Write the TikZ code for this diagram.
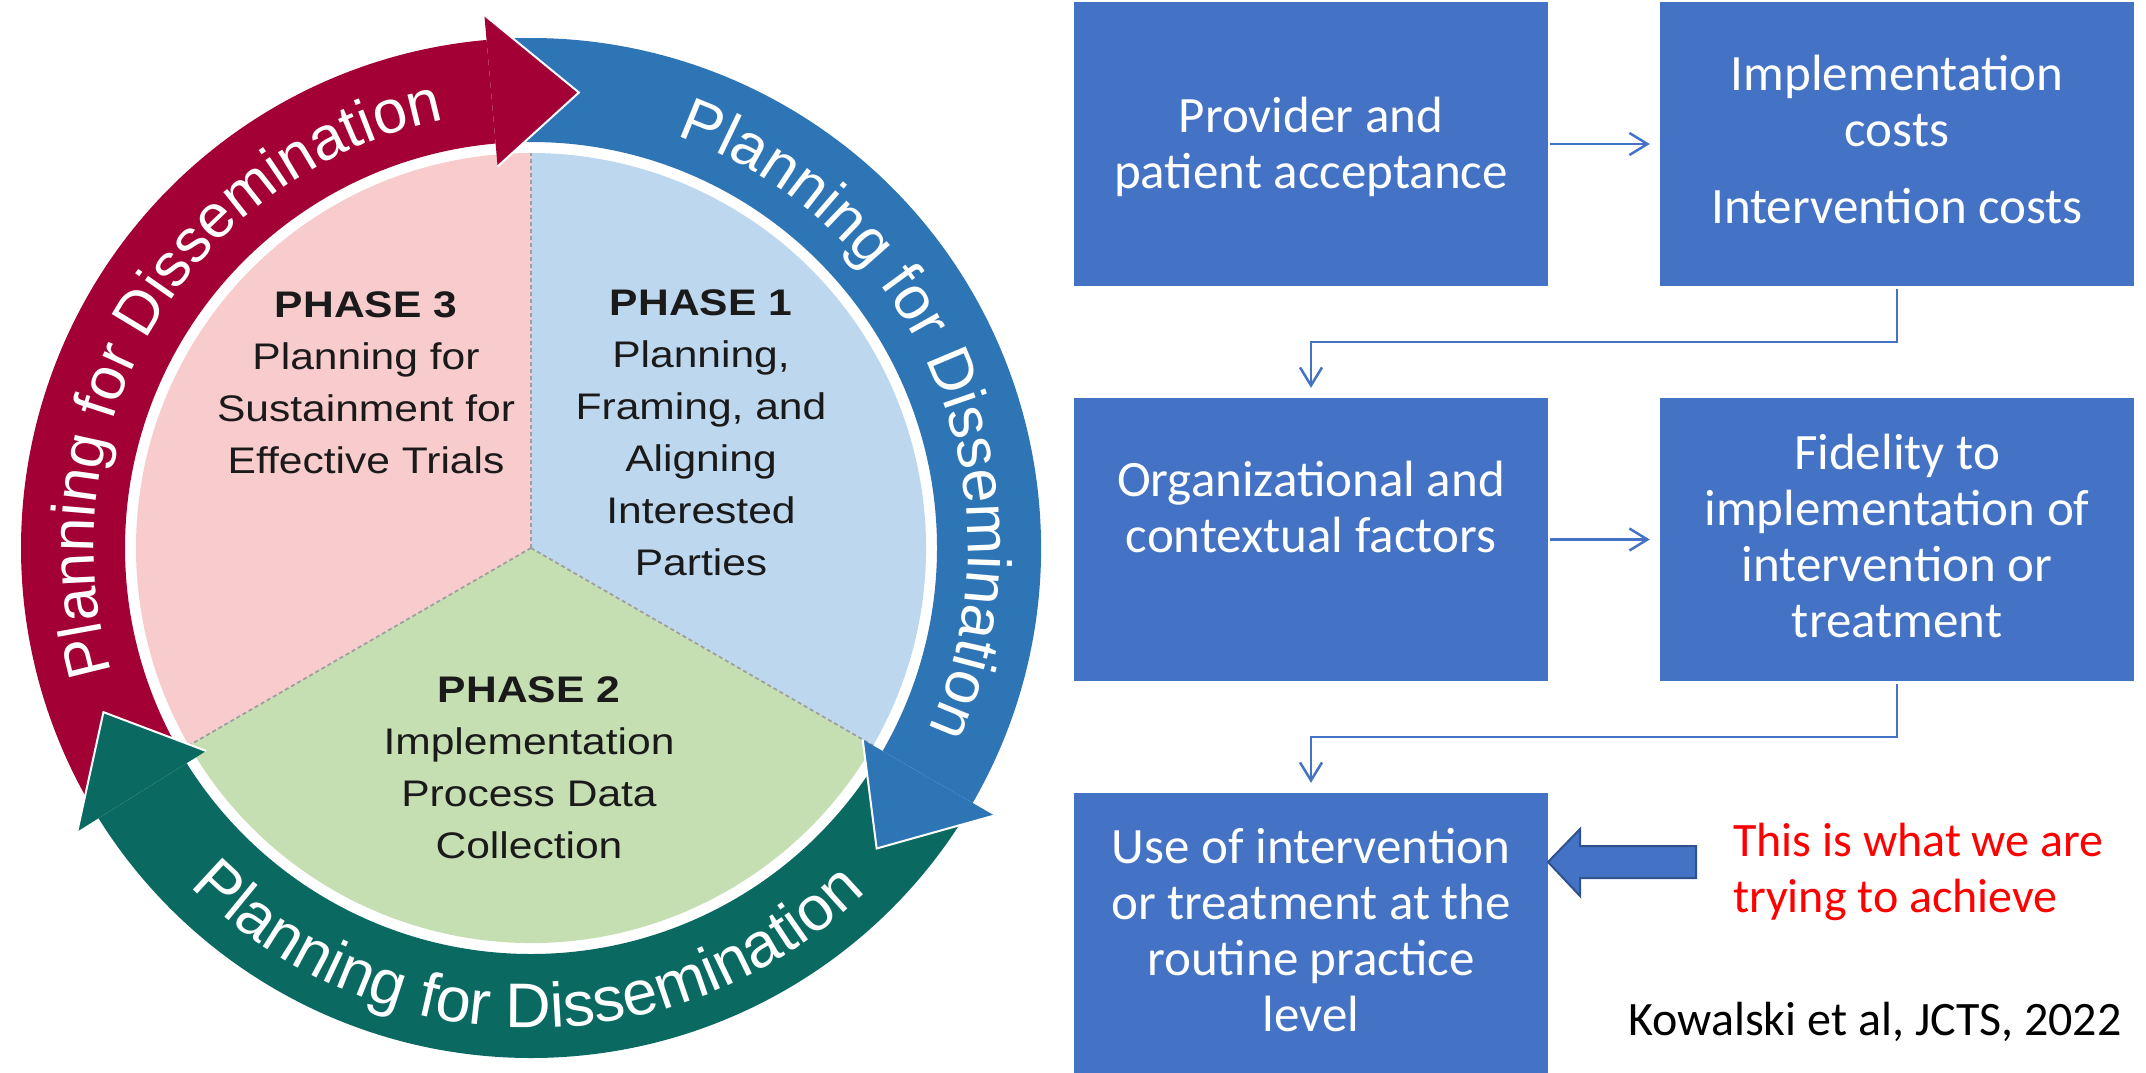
\documentclass[tikz,border=0pt]{standalone}
\usepackage{fontspec}
\setmainfont{Carlito}
\newfontfamily\piefont[FakeStretch=1.15]{Liberation Sans}
\newfontfamily\ringfont{Liberation Sans}
\usetikzlibrary{arrows.meta,decorations.text,calc}
\definecolor{boxblue}{HTML}{4472C4}
\definecolor{boxedge}{HTML}{2F528F}
\definecolor{piepink}{HTML}{F8CBCC}
\definecolor{pieblue}{HTML}{BDD7EE}
\definecolor{piegreen}{HTML}{C5DFB3}
\definecolor{ringred}{HTML}{A30035}
\definecolor{ringblue}{HTML}{2E75B6}
\definecolor{ringteal}{HTML}{0A6A62}
\definecolor{pietxt}{HTML}{1A1A1A}
\begin{document}
\begin{tikzpicture}[x=1pt,y=-1pt,
  box/.style={rectangle, fill=boxblue, inner sep=0pt, minimum width=474pt},
  boxtext/.style={inner sep=0pt, align=center, text=white, font=\fontsize{51}{56}\selectfont},
  pietext/.style={inner sep=0pt, align=center, text=pietxt, font=\piefont\fontsize{37}{52}\selectfont},
  conn/.style={draw=boxblue, line width=2.5pt, -{Straight Barb[length=18pt,width=22pt,line width=2.5pt]}},
  divider/.style={draw=gray!75, line width=1.8pt, dash pattern=on 4pt off 3pt},
  headedge/.style={draw=white, line width=2pt, line join=miter},
  ringtext/.style 2 args={decorate, decoration={text along path, text align=center, text={|\ringfont\fontsize{#1}{#1}\selectfont\color{white}|#2}}}
]
\useasboundingbox (0,0) rectangle (2146,1073);

% ---------------- left: phase wheel ----------------
\begin{scope}[shift={(531,548)}, y=1pt]
  \fill[piepink]  (0,0) -- (90:395)  arc[start angle=90,  end angle=210, radius=395] -- cycle;
  \fill[pieblue]  (0,0) -- (-30:395) arc[start angle=-30, end angle=90,  radius=395] -- cycle;
  \fill[piegreen] (0,0) -- (210:395) arc[start angle=210, end angle=330, radius=395] -- cycle;
  \draw[divider] (0,0) -- (90:395);
  \draw[divider] (0,0) -- (210:395);
  \draw[divider] (0,0) -- (330:395);
  % band bodies
  \fill[ringred]  (209:406) arc[start angle=209, end angle=95, radius=406] -- (95:510) arc[start angle=95, end angle=209, radius=510] -- cycle;
  \fill[ringblue] (92:406) arc[start angle=92, end angle=-30, radius=406] -- (-30:510) arc[start angle=-30, end angle=92, radius=510] -- cycle;
  \fill[ringteal] (-33:406) arc[start angle=-33, end angle=-148, radius=406] -- (-148:510) arc[start angle=-148, end angle=-33, radius=510] -- cycle;
  % heads
  \fill[ringred]  (95:383) -- (84:458) -- (95:535) -- cycle;
  \draw[headedge] (95:383) -- (84:458) -- (95:535);
  \fill[ringblue] (-30:383) -- (-41:458) -- (-30:535) -- cycle;
  \draw[headedge] (-30:383) -- (-41:458) -- (-30:535);
  \fill[ringteal] (-148:383) -- (-159:458) -- (-148:535) -- cycle;
  \draw[headedge] (-148:383) -- (-159:458) -- (-148:535);
  % ring texts
  \path[ringtext={61}{Planning for Dissemination}] (209:437) arc[start angle=209, end angle=89, radius=437];
  \path[ringtext={61}{Planning for Dissemination}] (83:437) arc[start angle=83, end angle=-37, radius=437];
  \path[ringtext={63}{Planning for Dissemination}] (209.5:480) arc[start angle=209.5, end angle=329.5, radius=480];
\end{scope}

\node[pietext, anchor=base] (p3) at (366,473) {\textbf{PHASE 3}\\Planning for\\Sustainment for\\Effective Trials};
\node[pietext, anchor=base] (p1) at (701,575) {\textbf{PHASE 1}\\Planning,\\Framing, and\\Aligning\\Interested\\Parties};
\node[pietext, anchor=base] (p2) at (529,858) {\textbf{PHASE 2}\\Implementation\\Process Data\\Collection};

% ---------------- right: flow ----------------
\node[box, minimum height=284pt] (b1) at (1311,144) {};
\node[box, minimum height=284pt] (b2) at (1897,144) {};
\node[box, minimum height=283pt] (b3) at (1311,539.5) {};
\node[box, minimum height=283pt] (b4) at (1897,539.5) {};
\node[box, minimum height=280pt] (b5) at (1311,933) {};

\node[boxtext, anchor=base] (t1) at (1311,188) {Provider and\\patient acceptance};
\node[boxtext, anchor=base] (t2) at (1897,223) {Implementation\\costs\\[21pt]Intervention costs};
\node[boxtext, anchor=base] (t3) at (1311,552) {Organizational and\\contextual factors};
\node[boxtext, anchor=base] (t4) at (1897,637) {Fidelity to\\implementation of\\intervention or\\treatment};
\node[boxtext, anchor=base] (t5) at (1311,1031) {Use of intervention\\or treatment at the\\routine practice\\level};

\coordinate (e1) at (1897,342);
\coordinate (e2) at (1897,737);
\draw[conn, shorten <=2pt, shorten >=10pt] (b1.east) -- (b2.west);
\draw[conn, shorten <=3pt, shorten >=10pt] (b2.south) -- (e1) -| (b3.north);
\draw[conn, shorten <=2pt, shorten >=10pt] (b3.east) -- (b4.west);
\draw[conn, shorten <=3pt, shorten >=10pt] (b4.south) -- (e2) -| (b5.north);

\coordinate (tip) at (1548,862);
\draw[fill=boxblue, draw=boxedge, line width=2pt, line join=miter]
  (tip) -- (1580,829) -- (1580,846) -- (1696,846) -- (1696,878) -- (1580,878) -- (1580,896) -- cycle;

\node[inner sep=0pt, anchor=base west, align=left, text=red, font=\fontsize{48}{56}\selectfont] (goal) at (1733,912) {This is what we are\\trying to achieve};
\node[inner sep=0pt, anchor=base west, text=black, font=\fontsize{48}{56}\selectfont] (cite) at (1628,1035) {Kowalski et al, JCTS, 2022};
\end{tikzpicture}
\end{document}
